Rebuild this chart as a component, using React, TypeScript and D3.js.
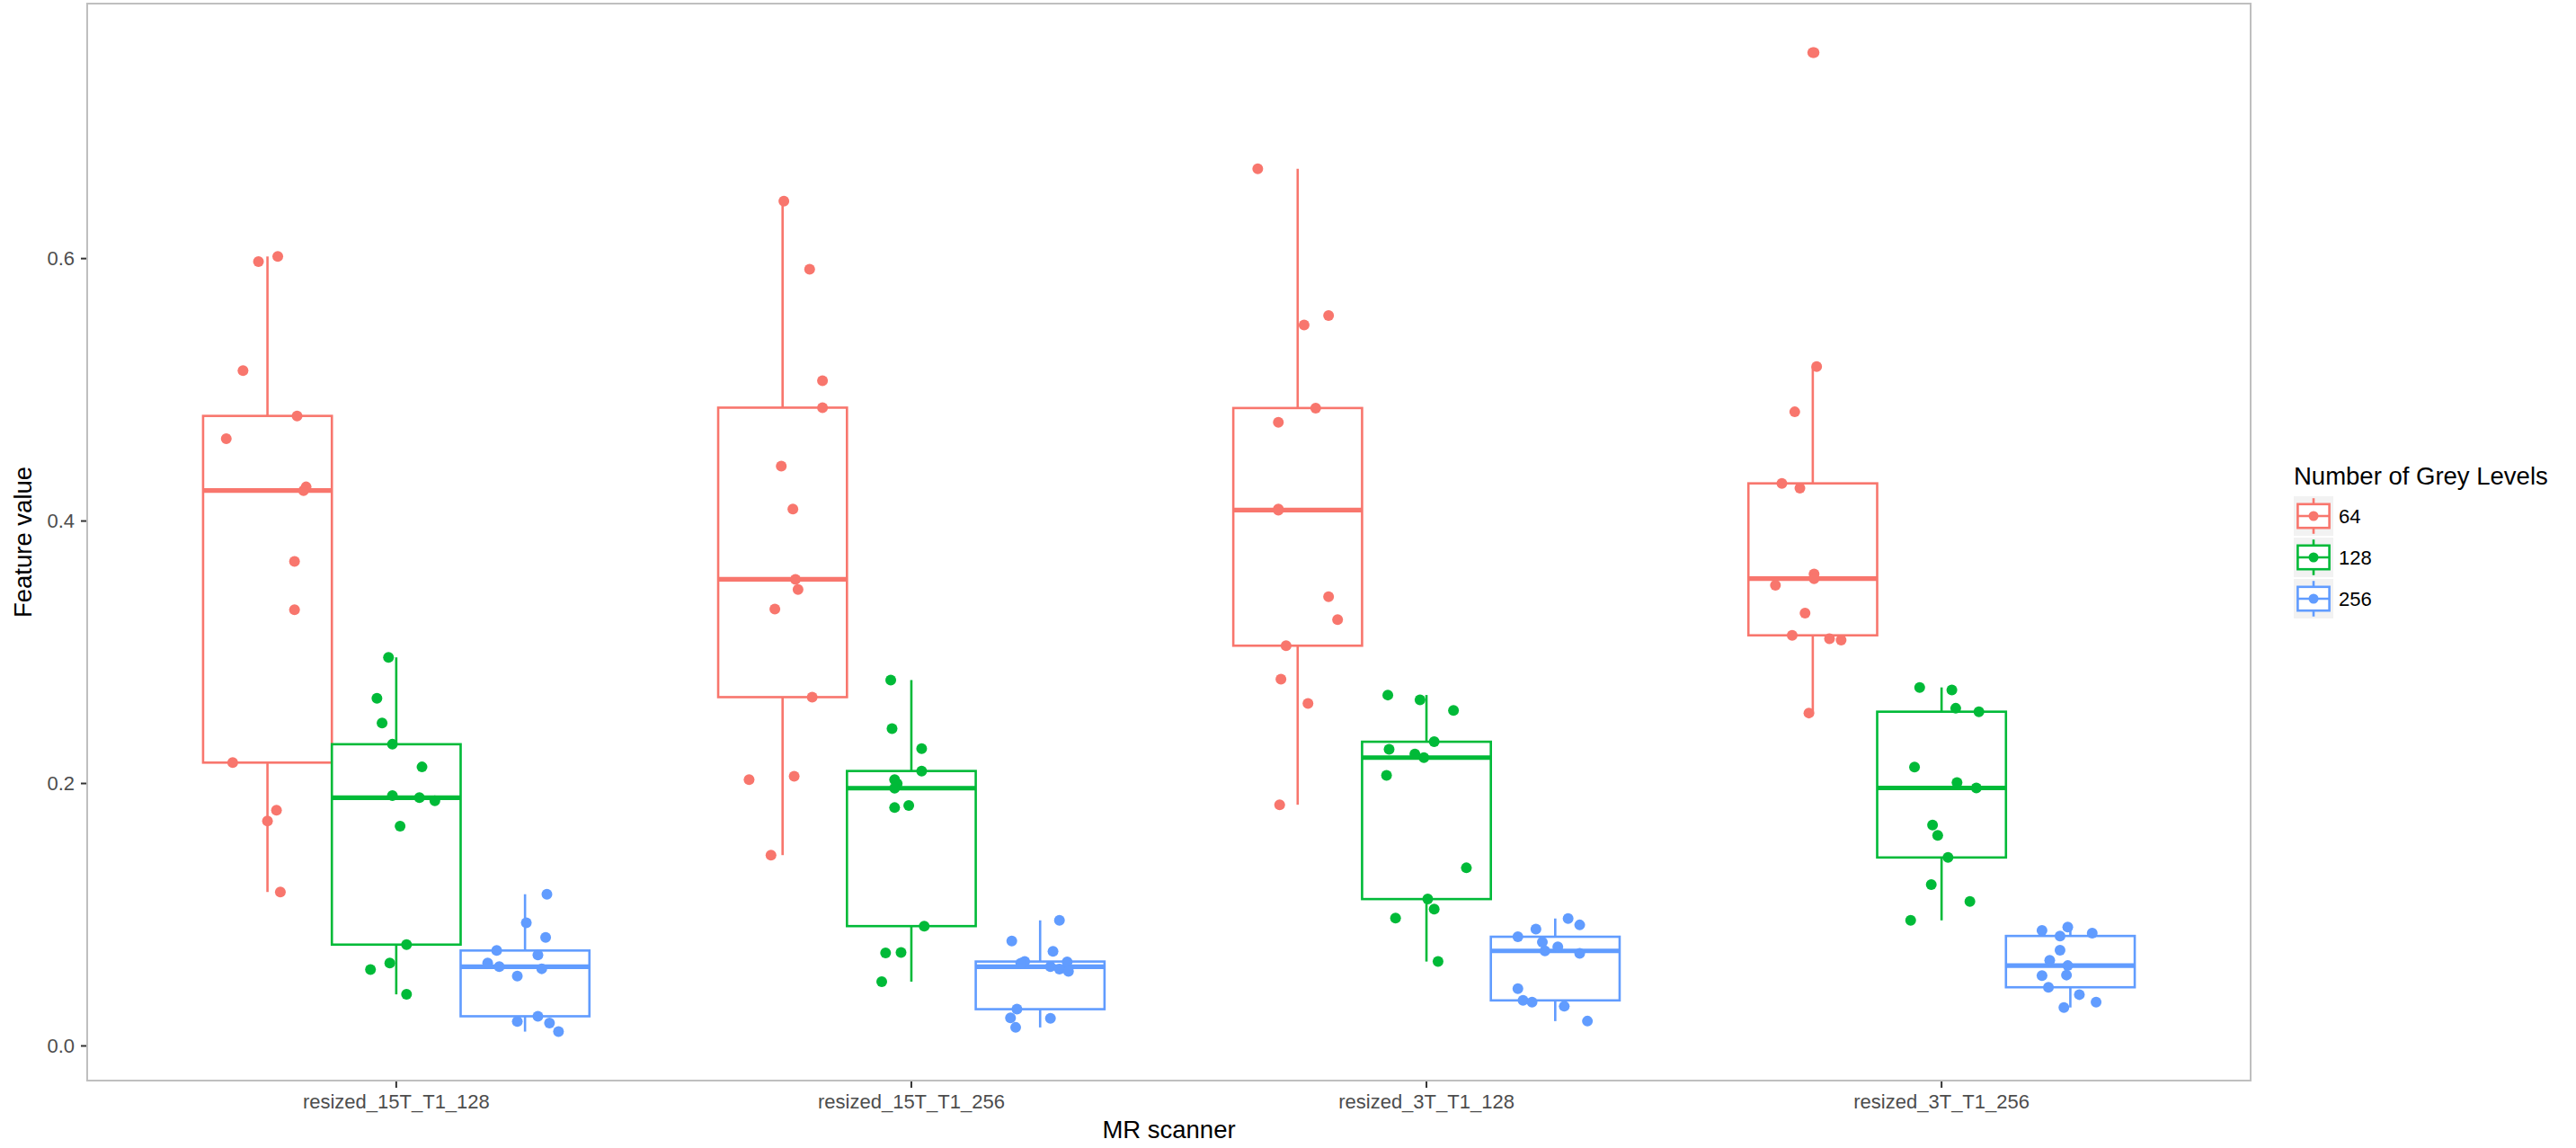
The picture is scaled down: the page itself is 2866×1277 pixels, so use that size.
import React from "react";
import * as d3 from "d3";

// ---------- data ----------
const categories = [
  "resized_15T_T1_128",
  "resized_15T_T1_256",
  "resized_3T_T1_128",
  "resized_3T_T1_256",
];
const greyLevels = ["64", "128", "256"];
const levelColors = ["#F8766D", "#00BA38", "#619CFF"];

// feature values, one inner array per MR scanner category
const values64 = [
  [0.6016, 0.5977, 0.5146, 0.4801, 0.4628, 0.426, 0.4232, 0.3692, 0.3324, 0.2159, 0.1797, 0.1714, 0.1173],
  [0.6438, 0.5919, 0.5069, 0.4864, 0.4419, 0.4092, 0.3556, 0.3478, 0.3329, 0.2658, 0.2055, 0.2029, 0.1454],
  [0.6684, 0.5566, 0.5494, 0.4861, 0.4753, 0.4092, 0.4083, 0.3423, 0.3248, 0.305, 0.2795, 0.261, 0.1838],
  [0.757, 0.5177, 0.4832, 0.4287, 0.425, 0.3597, 0.3561, 0.351, 0.3299, 0.3129, 0.3103, 0.3093, 0.2537],
];
const values128 = [
  [0.2961, 0.265, 0.246, 0.2299, 0.2126, 0.1908, 0.1892, 0.1869, 0.1675, 0.0772, 0.0632, 0.0582, 0.0393],
  [0.2788, 0.2418, 0.2265, 0.2095, 0.2029, 0.1999, 0.1964, 0.1833, 0.1816, 0.0913, 0.0712, 0.0708, 0.049],
  [0.2674, 0.2637, 0.2557, 0.2318, 0.226, 0.2224, 0.2197, 0.2062, 0.1357, 0.1119, 0.1043, 0.0975, 0.0643],
  [0.2732, 0.2712, 0.2573, 0.2547, 0.2125, 0.2007, 0.1966, 0.1683, 0.1605, 0.1436, 0.123, 0.1101, 0.0957],
];
const values256 = [
  [0.1156, 0.0939, 0.0827, 0.0727, 0.0693, 0.0632, 0.0604, 0.0588, 0.0532, 0.0226, 0.0187, 0.0175, 0.0109],
  [0.0957, 0.08, 0.0721, 0.0643, 0.064, 0.063, 0.0604, 0.0586, 0.0569, 0.028, 0.0214, 0.0211, 0.0141],
  [0.0971, 0.0922, 0.089, 0.0832, 0.0791, 0.0755, 0.0724, 0.0706, 0.0436, 0.0347, 0.0333, 0.0302, 0.0189],
  [0.0905, 0.088, 0.0859, 0.0838, 0.073, 0.0653, 0.0612, 0.054, 0.0535, 0.0447, 0.0391, 0.0334, 0.0293],
];

// horizontal jitter of each point, as a fraction of one dodged box width
const jitter64 = [
  [0.08, -0.07, -0.19, 0.23, -0.32, 0.3, 0.28, 0.21, 0.21, -0.27, 0.07, 0, 0.1],
  [0.01, 0.21, 0.31, 0.31, -0.01, 0.08, 0.1, 0.12, -0.06, 0.23, 0.09, -0.26, -0.09],
  [-0.31, 0.24, 0.05, 0.14, -0.15, -0.15, -0.15, 0.24, 0.31, -0.09, -0.13, 0.08, -0.14],
  [0.01, 0.03, -0.14, -0.24, -0.1, 0.01, 0.01, -0.29, -0.06, -0.16, 0.13, 0.22, -0.03],
];
const jitter128 = [
  [-0.06, -0.15, -0.11, -0.03, 0.2, -0.03, 0.18, 0.3, 0.03, 0.08, -0.05, -0.2, 0.08],
  [-0.16, -0.15, 0.08, 0.08, -0.13, -0.11, -0.13, -0.02, -0.13, 0.1, -0.08, -0.2, -0.23],
  [-0.3, -0.05, 0.21, 0.06, -0.29, -0.09, -0.02, -0.31, 0.31, 0.01, 0.06, -0.24, 0.09],
  [-0.17, 0.08, 0.11, 0.29, -0.21, 0.12, 0.27, -0.07, -0.03, 0.05, -0.08, 0.22, -0.24],
];
const jitter256 = [
  [0.17, 0.01, 0.16, -0.22, 0.1, -0.29, -0.2, 0.13, -0.06, 0.1, -0.06, 0.19, 0.26],
  [0.15, -0.22, 0.1, -0.12, 0.21, -0.15, 0.08, 0.15, 0.22, -0.18, -0.23, 0.08, -0.19],
  [0.1, 0.19, -0.15, -0.29, -0.1, 0.02, -0.08, 0.19, -0.29, -0.25, -0.18, 0.07, 0.25],
  [-0.02, -0.22, 0.17, -0.08, -0.08, -0.16, -0.02, -0.03, -0.22, -0.17, 0.07, 0.2, -0.05],
];

const yTitle = "Feature value";
const xTitle = "MR scanner";
const legendTitle = "Number of Grey Levels";

// ---------- layout ----------
const W = 2866;
const H = 1277;
const panel = { left: 97, right: 2504, top: 4, bottom: 1202 };
const FONT = "'Liberation Sans', Arial, Helvetica, sans-serif";

const valuesByLevel = [values64, values128, values256];
const jitterByLevel = [jitter64, jitter128, jitter256];

function boxStats(vals: number[]) {
  const s = [...vals].sort(d3.ascending);
  const q1 = d3.quantile(s, 0.25)!;
  const med = d3.quantile(s, 0.5)!;
  const q3 = d3.quantile(s, 0.75)!;
  const iqr = q3 - q1;
  const lo = q1 - 1.5 * iqr;
  const hi = q3 + 1.5 * iqr;
  const inside = s.filter((v) => v >= lo && v <= hi);
  return {
    q1,
    med,
    q3,
    wlo: d3.min(inside)!,
    whi: d3.max(inside)!,
    outliers: s.filter((v) => v < lo || v > hi),
  };
}

export default function App() {
  const all = valuesByLevel.flat(2);
  const [mn, mx] = d3.extent(all) as [number, number];
  const pad = (mx - mn) * 0.05;
  const y = d3.scaleLinear().domain([mn - pad, mx + pad]).range([panel.bottom, panel.top]);
  const x = d3.scalePoint<string>().domain(categories).range([panel.left, panel.right]).padding(0.6);
  const step = x.step();
  const dodge = d3
    .scaleBand<string>()
    .domain(greyLevels)
    .range([-0.375 * step, 0.375 * step]);
  const bw = dodge.bandwidth();
  const yTicks = y.ticks(5).filter((t) => t >= 0);
  const fmt = d3.format(".1f");

  const lw = 2.6;
  const r = 6;

  const boxes: React.ReactNode[] = [];
  const points: React.ReactNode[] = [];
  categories.forEach((cat, ci) => {
    greyLevels.forEach((lev, li) => {
      const vals = valuesByLevel[li][ci];
      const jit = jitterByLevel[li][ci];
      const col = levelColors[li];
      const cx = x(cat)! + dodge(lev)! + bw / 2;
      const st = boxStats(vals);
      const x0 = cx - bw / 2;
      boxes.push(
        <g key={`b-${ci}-${li}`}>
          <line x1={cx} x2={cx} y1={y(st.q3)} y2={y(st.whi)} stroke={col} strokeWidth={lw} />
          <line x1={cx} x2={cx} y1={y(st.q1)} y2={y(st.wlo)} stroke={col} strokeWidth={lw} />
          <rect x={x0} y={y(st.q3)} width={bw} height={y(st.q1) - y(st.q3)} fill="#FFFFFF" stroke={col} strokeWidth={lw} />
          <line x1={x0} x2={x0 + bw} y1={y(st.med)} y2={y(st.med)} stroke={col} strokeWidth={lw * 2} />
          {st.outliers.map((o, oi) => (
            <circle key={oi} cx={cx} cy={y(o)} r={r} fill={col} />
          ))}
        </g>
      );
      vals.forEach((v, vi) => {
        points.push(<circle key={`p-${ci}-${li}-${vi}`} cx={cx + jit[vi] * bw} cy={y(v)} r={r} fill={col} />);
      });
    });
  });

  const legX = 2552;
  const legTitleY = 539;
  const keyTop = 552;
  const keySize = 44;
  const keyStep = 46;

  return (
    <>
      <style>{`body{margin:0;} svg{display:block;}`}</style>
      <svg width={W} height={H} viewBox={`0 0 ${W} ${H}`} style={{ background: "#FFFFFF", fontFamily: FONT }}>
        <rect x={0} y={0} width={W} height={H} fill="#FFFFFF" />
        {/* panel */}
        <rect x={panel.left} y={panel.top} width={panel.right - panel.left} height={panel.bottom - panel.top} fill="#FFFFFF" />
        {boxes}
        {points}
        <rect
          x={panel.left}
          y={panel.top}
          width={panel.right - panel.left}
          height={panel.bottom - panel.top}
          fill="none"
          stroke="#BFBFBF"
          strokeWidth={2}
        />
        {/* y axis */}
        {yTicks.map((t) => (
          <g key={`yt-${t}`}>
            <line x1={panel.left - 7} x2={panel.left - 1} y1={y(t)} y2={y(t)} stroke="#333333" strokeWidth={2} />
            <text x={panel.left - 14} y={y(t)} dy="0.35em" textAnchor="end" fontSize={22} fill="#4D4D4D">
              {fmt(t)}
            </text>
          </g>
        ))}
        {/* x axis */}
        {categories.map((c) => (
          <g key={`xt-${c}`}>
            <line x1={x(c)} x2={x(c)} y1={panel.bottom + 1} y2={panel.bottom + 8} stroke="#333333" strokeWidth={2} />
            <text x={x(c)} y={panel.bottom + 31} textAnchor="middle" fontSize={22} fill="#4D4D4D">
              {c}
            </text>
          </g>
        ))}
        <text x={(panel.left + panel.right) / 2} y={1266} textAnchor="middle" fontSize={27.5} fill="#000000">
          {xTitle}
        </text>
        <text
          transform={`translate(35,${(panel.top + panel.bottom) / 2}) rotate(-90)`}
          textAnchor="middle"
          fontSize={27.5}
          fill="#000000"
        >
          {yTitle}
        </text>
        {/* legend */}
        <text x={legX} y={legTitleY} fontSize={27.5} fill="#000000">
          {legendTitle}
        </text>
        {greyLevels.map((lev, i) => {
          const ky = keyTop + i * keyStep;
          const col = levelColors[i];
          const kcx = legX + keySize / 2;
          return (
            <g key={`lg-${lev}`}>
              <rect x={legX} y={ky} width={keySize} height={keySize} fill="#F2F2F2" />
              <line x1={kcx} x2={kcx} y1={ky + keySize * 0.05} y2={ky + keySize * 0.2} stroke={col} strokeWidth={lw} />
              <line x1={kcx} x2={kcx} y1={ky + keySize * 0.8} y2={ky + keySize * 0.95} stroke={col} strokeWidth={lw} />
              <rect
                x={legX + keySize * 0.1}
                y={ky + keySize * 0.2}
                width={keySize * 0.8}
                height={keySize * 0.6}
                fill="#FFFFFF"
                stroke={col}
                strokeWidth={lw}
              />
              <line
                x1={legX + keySize * 0.1}
                x2={legX + keySize * 0.9}
                y1={ky + keySize / 2}
                y2={ky + keySize / 2}
                stroke={col}
                strokeWidth={lw}
              />
              <circle cx={kcx} cy={ky + keySize / 2} r={5.5} fill={col} />
              <text x={legX + keySize + 6} y={ky + keySize / 2} dy="0.35em" fontSize={22} fill="#000000">
                {lev}
              </text>
            </g>
          );
        })}
      </svg>
    </>
  );
}
